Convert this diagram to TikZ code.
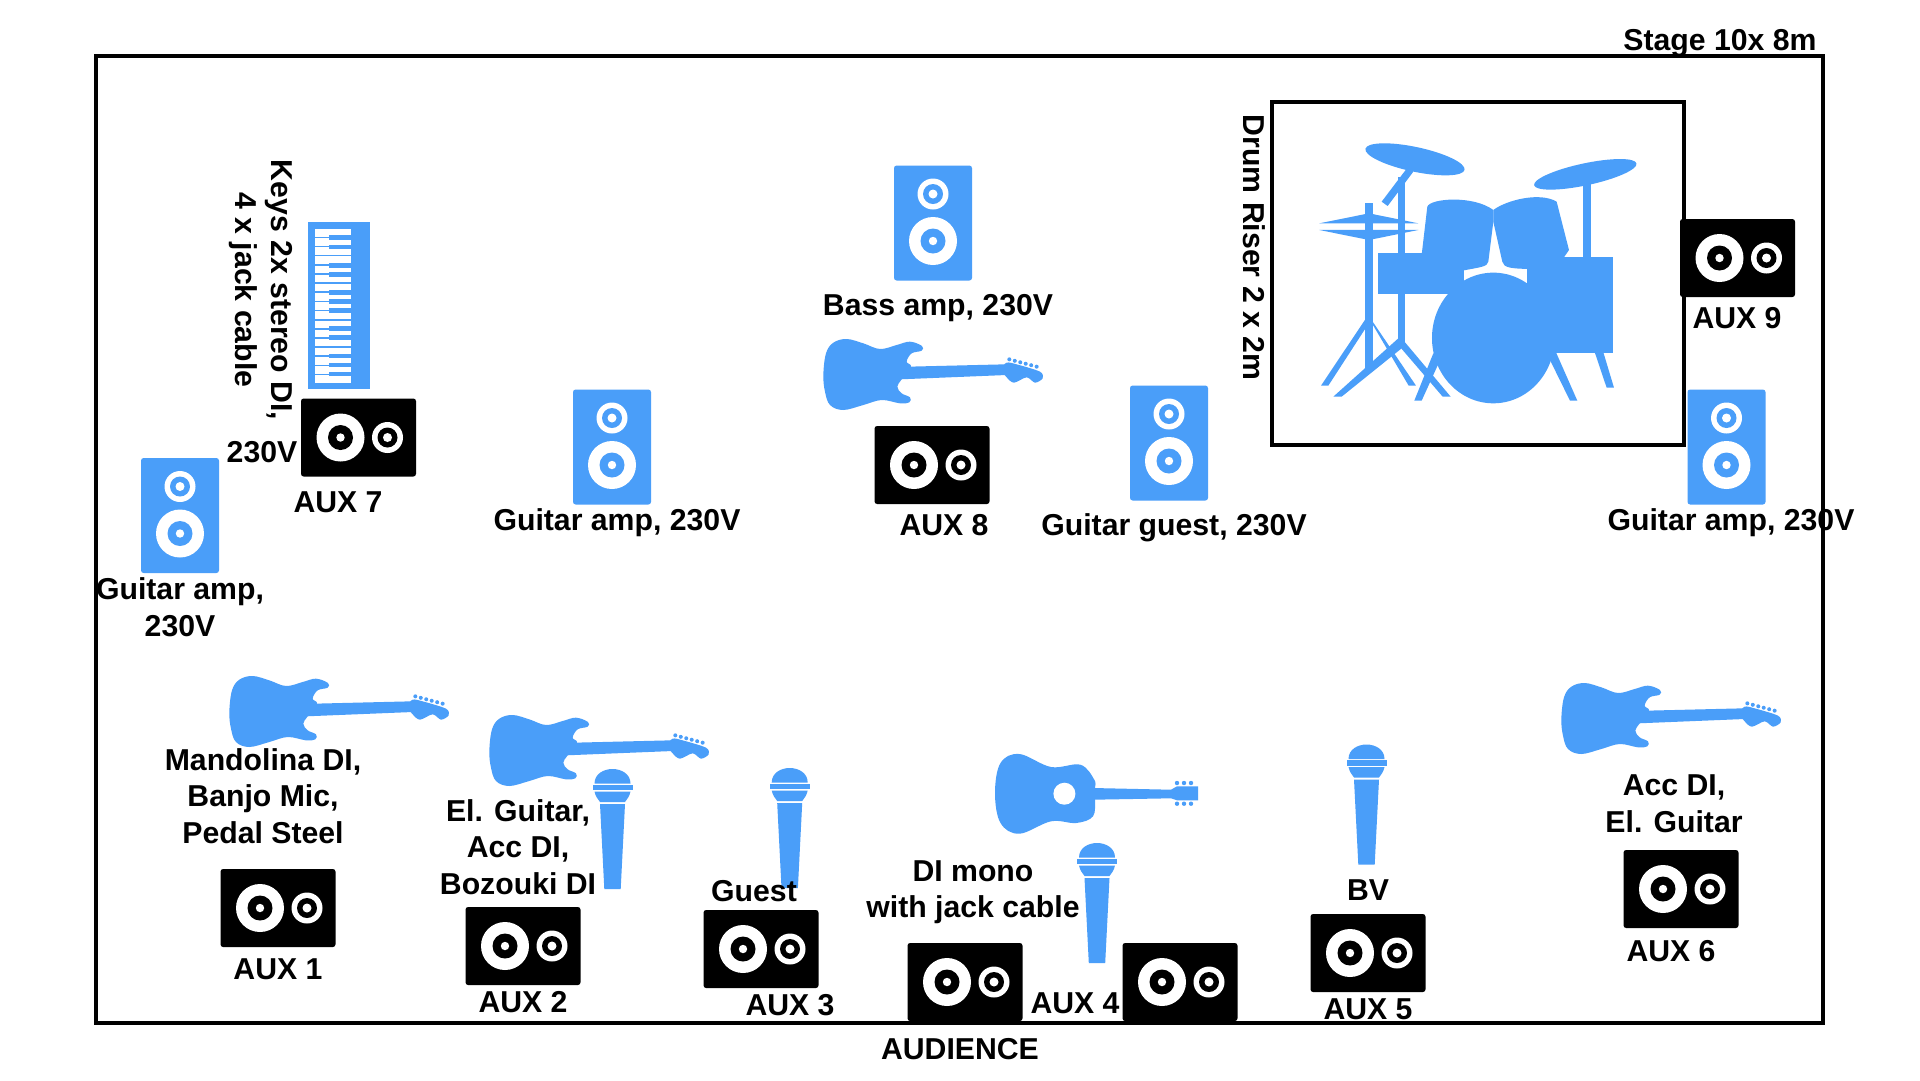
\documentclass[tikz,border=0pt]{standalone}
\usepackage{fontspec}
\setmainfont{Liberation Sans}
\definecolor{gearblue}{HTML}{4A9EF9}

\begin{document}
\begin{tikzpicture}[x=0.02cm,y=-0.02cm,
%
    stagetext/.style={font=\bfseries\fontsize{17.2}{20.8}\selectfont,align=center,inner sep=0pt},
    frameline/.style={draw=black,line width=2pt},
    gear/.style={fill=gearblue,draw=none},
    monitor/.pic={
        \fill[black,rounded corners=1.5pt] (-57.5,-39) rectangle (57.5,39);
        \fill[white] (-18,0) circle (24);
        \fill[black] (-18,0) circle (12.5);
        \fill[white] (-18,0) circle (4.2);
        \fill[white] (29,0) circle (15.5);
        \fill[black] (29,0) circle (10);
        \fill[white] (29,0) circle (4.5);
    },
    speaker/.pic={
        \fill[gearblue,rounded corners=1.5pt] (-39,-57.5) rectangle (39,57.5);
        \fill[white] (0,18) circle (24);
        \fill[gearblue] (0,18) circle (12.5);
        \fill[white] (0,18) circle (4.2);
        \fill[white] (0,-29) circle (15.5);
        \fill[gearblue] (0,-29) circle (10);
        \fill[white] (0,-29) circle (4.5);
    },
    mic/.pic={
        \fill[gear] (-18,14.5) .. controls (-18,5) and (-9,0) .. (0,0) .. controls (9,0) and (18,5) .. (18,14.5) -- cycle;
        \fill[gear] (-20,15.8) rectangle (20,21);
        \fill[gear] (-18,22.5) -- (18,22.5) .. controls (17,27) and (15,30) .. (12.5,33) -- (-12.5,33) .. controls (-15,30) and (-17,27) .. (-18,22.5) -- cycle;
        \fill[gear] (-12.5,35) -- (12.5,35) -- (8.2,120) -- (-8.2,120) -- cycle;
    },
    eguitar/.pic={
        \fill[gear] plot[smooth cycle,tension=0.6] coordinates {(40,165) (48,100) (70,68) (110,57) (160,70) (210,87) (260,75) (300,65) (336,78) (335,92) (305,100) (290,125) (303,140) (275,178) (262,200) (275,220) (300,232) (298,247) (270,250) (215,240) (160,255) (100,270) (60,255) (45,215)};
        \fill[gear] (295,140) -- (585,133) -- (590,165) -- (270,178) -- cycle;
        \fill[gear] plot[smooth cycle,tension=0.5] coordinates {(575,148) (590,128) (620,133) (690,155) (698,175) (675,188) (650,172) (612,188) (590,172)};
        \foreach \i in {0,...,5}
            \fill[gear] (598+16.4*\i,118+4.4*\i) circle (6);
    },
    aguitar/.pic={
        \fill[gear] plot[smooth cycle,tension=0.6] coordinates {(0,39) (5.5,69) (24.4,79.7) (56,67.3) (81.2,69) (98,62.3) (100,45) (100,34) (99.3,25.7) (85.4,10.7) (56,13) (24.4,0) (5.5,9)};
        \fill[gear] (98,34) -- (176,35.7) -- (182,32.3) -- (203,32.3) -- (203,46.3) -- (182,46.3) -- (176,44.3) -- (98,45.7) -- cycle;
        \fill[white] (69.4,39.7) circle (11);
        \foreach \i in {182,189,196}{
            \fill[gear] (\i,29) circle (2.2);
            \fill[gear] (\i,49.7) circle (2.2);
        }
    },
    keyboard/.pic={
        \fill[gearblue] (-30.6,-83.3) rectangle (30.6,83.3);
        \foreach \i in {0,...,16}
            \fill[white] (-24.5,-76.5+9.15*\i) rectangle (11.7,-69+9.15*\i);
        \foreach \k in {-67.8,-58.5,-40.2,-30.8,-12.8,-3.8,4.8,23.2,32.2,50.5,59.5,68.5}
            \fill[gearblue] (-10.5,\k-2.4) rectangle (12,\k+2.4);
    },
    drumkit/.pic={
        % cymbals and stands
        \fill[gear,rotate around={-12:(585,208)}] (585,208) ellipse (152 and 37);
        \fill[gear,rotate around={12:(1096,253)}] (1096,253) ellipse (157 and 33);
        \fill[gear] (1088,280) rectangle (1112,510);
        \fill[gear] (533,260) rectangle (556,770);
        \fill[gear] (563,232) -- (580,245) -- (503,348) -- (485,335) -- cycle;
        \fill[gear] (436,338) rectangle (458,840);
        \fill[gear] (298,400) -- (447,370) -- (595,400) -- cycle;
        \fill[gear] (298,420) -- (595,420) -- (447,450) -- cycle;
        % legs
        \fill[gear] (438,685) -- (456,685) -- (325,887) -- (303,887) -- cycle;
        \fill[gear] (447,685) -- (458,695) -- (588,887) -- (566,887) -- cycle;
        \fill[gear] (535,745) -- (545,775) -- (365,920) -- (340,920) -- cycle;
        \fill[gear] (545,745) -- (692,920) -- (668,920) -- (535,765) -- cycle;
        \fill[gear] (640,790) -- (665,800) -- (605,932) -- (583,932) -- cycle;
        \fill[gear] (1005,780) -- (1072,932) -- (1050,932) -- (985,800) -- cycle;
        \fill[gear] (1122,780) -- (1148,780) -- (1182,893) -- (1160,893) -- cycle;
        % toms and shells
        \fill[gear] (605,495) -- (622,350) .. controls (630,325) and (760,315) .. (820,360) -- (820,395) -- (805,515) .. controls (803,530) and (780,532) .. (732,541) -- (732,560) -- (605,560) -- cycle;
        \fill[gear] (820,360) .. controls (860,330) and (960,305) .. (1010,335) -- (1047,480) -- (1030,505) -- (921,537) .. controls (880,535) and (850,535) .. (847,515) -- (820,395) -- cycle;
        \fill[gear] (474,490) rectangle (732,611);
        \fill[gear] (921,500) rectangle (1178,788);
        \fill[gear] (820,744) ellipse (184 and 196);
    },
]
    \useasboundingbox (0,0) rectangle (1920,1080);
    \fill[white] (0,0) rectangle (1920,1080);

    \draw[frameline] (96,56) rectangle (1823,1023);
    \draw[frameline] (1272,102) rectangle (1684,445);

    \pic at (1220,90) [scale=0.3333] {drumkit};
    \pic at (339,305.5) {keyboard};

    \foreach \i/\x/\y in {1/278/908,2/523/946,3/761/949,4/965/982,45/1180/982,5/1368/953,6/1681/889,7/358.5/437.5,8/932/465,9/1737.5/258}
        \pic (aux\i) at (\x,\y) {monitor};
    \foreach \i/\x/\y in {a/180/515.5,b/612/447,c/933/223,d/1169/443,e/1726.5/447}
        \pic (spk\i) at (\x,\y) {speaker};
    \foreach \i/\x/\y in {a/612.5/769,b/789.7/768,c/1097/843,d/1366.5/744.5}
        \pic (mic\i) at (\x,\y) {mic};
    \foreach \i/\x/\y in {a/810/320,b/216/657,c/476/696,d/1548/664}
        \pic (gtr\i) at (\x,\y) [scale=0.3333] {eguitar};
    \pic (acoustic) at (995,754) {aguitar};

    \node[stagetext] (stage_node) at (1720,43) {Stage 10x 8m};
    \node[stagetext] (audience_node) at (960,1049.5) {AUDIENCE};
    \node[stagetext,rotate=-90] (riser_node) at (1254,247.5) {Drum Riser 2 x 2m};
    \node[stagetext,rotate=-90] (keys_node) at (261,290) {Keys 2x stereo DI,\\4 x jack cable};
    \node[stagetext] (keysv_node) at (262,452) {230V};
    \node[stagetext] (bass_node) at (938,308) {Bass amp, 230V};
    \node[stagetext] (amp2_node) at (617,523) {Guitar amp, 230V};
    \node[stagetext] (guest_amp_node) at (1174,528) {Guitar guest, 230V};
    \node[stagetext] (amp3_node) at (1731,523) {Guitar amp, 230V};
    \node[stagetext] (amp1_node) at (180,607) {Guitar amp,\\230V};
    \node[stagetext] (mandolin_node) at (263,796) {Mandolina DI,\\Banjo Mic,\\Pedal Steel};
    \node[stagetext] (elgtr_node) at (518,847) {El. Guitar,\\Acc DI,\\Bozouki DI};
    \node[stagetext] (guest_node) at (754,891) {Guest};
    \node[stagetext] (dimono_node) at (973,892) {DI mono\\with jack cable};
    \node[stagetext] (bv_node) at (1368,890) {BV};
    \node[stagetext] (accdi_node) at (1674,804) {Acc DI,\\El. Guitar};

    \node[stagetext] (aux1_node) at (278,969) {AUX 1};
    \node[stagetext] (aux2_node) at (523,1002) {AUX 2};
    \node[stagetext] (aux3_node) at (790,1005) {AUX 3};
    \node[stagetext] (aux4_node) at (1075,1003) {AUX 4};
    \node[stagetext] (aux5_node) at (1368,1009) {AUX 5};
    \node[stagetext] (aux6_node) at (1671,951) {AUX 6};
    \node[stagetext] (aux7_node) at (338,502) {AUX 7};
    \node[stagetext] (aux8_node) at (944,525) {AUX 8};
    \node[stagetext] (aux9_node) at (1737,318) {AUX 9};
\end{tikzpicture}
\end{document}
